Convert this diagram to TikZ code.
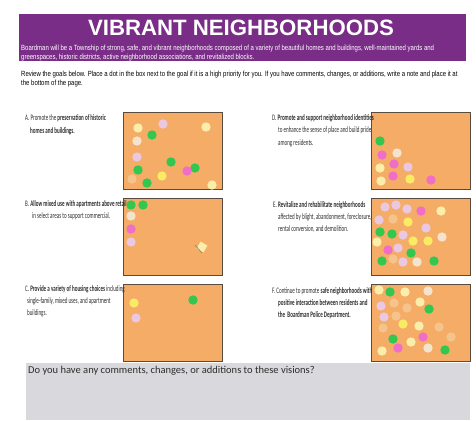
\documentclass[tikz,border=0pt]{standalone}
\usepackage{fontspec}
\setmainfont{Carlito}
\newfontfamily\headfont{Liberation Sans}
\newfontfamily\bannerfont[FakeStretch=0.8]{Liberation Sans}
\newfontfamily\goalfont[FakeStretch=0.6]{Carlito}
\usetikzlibrary{positioning}

\definecolor{banner}{RGB}{122,45,135}
\definecolor{boxfill}{RGB}{244,172,102}
\definecolor{boxline}{RGB}{90,75,65}
\definecolor{notefill}{RGB}{217,217,221}
\definecolor{goaltext}{RGB}{45,45,45}
\definecolor{dgreen}{RGB}{50,200,80}
\definecolor{dpink}{RGB}{240,110,200}
\definecolor{dyellow}{RGB}{250,235,100}
\definecolor{dpale}{RGB}{250,238,170}
\definecolor{dcream}{RGB}{245,228,205}
\definecolor{dlav}{RGB}{235,200,225}
\definecolor{dpeach}{RGB}{245,195,140}

\begin{document}
\begin{tikzpicture}[x=1pt,y=-1pt,
	goalbox/.style={draw=boxline,fill=boxfill,line width=0.8pt,minimum width=99pt,minimum height=77pt,inner sep=0pt},
	goal/.style={anchor=base west,inner sep=0pt,text=goaltext,font=\goalfont\fontsize{8.4}{10}\selectfont},
	intro/.style={anchor=base west,inner sep=0pt,font=\bannerfont\fontsize{7.5}{8}\selectfont}]
	\useasboundingbox (0,0) rectangle (476,420);

	% header
	\node[fill=banner,anchor=north west,minimum width=447pt,minimum height=47pt,inner sep=0pt] (banner) at (19,14) {};
	\node[anchor=base,inner sep=0pt,text=white,font=\headfont\bfseries\fontsize{22.2}{24}\selectfont] (title) at (241,36) {VIBRANT NEIGHBORHOODS};
	\node[intro,text=white] (vision1) at (21,50.5) {Boardman will be a Township of strong, safe, and vibrant neighborhoods composed of a variety of beautiful homes and buildings, well-maintained yards and};
	\node[intro,text=white] (vision2) at (21,59.5) {greenspaces, historic districts, active neighborhood associations, and revitalized blocks.};
	\node[intro] (review1) at (21,76.5) {Review the goals below. Place a dot in the box next to the goal if it is a high priority for you. If you have comments, changes, or additions, write a note and place it at};
	\node[intro] (review2) at (21,85) {the bottom of the page.};

	% boxes
	\node[goalbox] (boxA) at (173,151) {};
	\node[goalbox] (boxB) [below=8pt of boxA] {};
	\node[goalbox] (boxC) [below=8pt of boxB] {};
	\node[goalbox] (boxD) [right=148pt of boxA] {};
	\node[goalbox] (boxE) [below=8pt of boxD] {};
	\node[goalbox] (boxF) [below=8pt of boxE] {};

	% goals
	\node[goal] (goalA1) at (25,120) {A. Promote the \textbf{preservation of historic}};
	\node[goal] (goalA2) at (30,133) {\textbf{homes and buildings.}};
	\node[goal] (goalB1) at (25,206) {B. \textbf{Allow mixed use with apartments above retail}};
	\node[goal] (goalB2) at (32,218) {in select areas to support commercial.};
	\node[goal] (goalC1) at (25,291) {C. \textbf{Provide a variety of housing choices} including};
	\node[goal] (goalC2) at (27,303) {single-family, mixed uses, and apartment};
	\node[goal] (goalC3) at (27,315) {buildings.};
	\node[goal] (goalD1) at (272,120) {D. \textbf{Promote and support neighborhood identities}};
	\node[goal] (goalD2) at (278,132.5) {to enhance the sense of place and build pride};
	\node[goal] (goalD3) at (278,145) {among residents.};
	\node[goal] (goalE1) at (273,207) {E. \textbf{Revitalize and rehabilitate neighborhoods}};
	\node[goal] (goalE2) at (278,219.5) {affected by blight, abandonment, foreclosure,};
	\node[goal] (goalE3) at (278,231.5) {rental conversion, and demolition.};
	\node[goal] (goalF1) at (272,293) {F. Continue to promote \textbf{safe neighborhoods with}};
	\node[goal] (goalF2) at (278,305) {\textbf{positive interaction between residents and}};
	\node[goal] (goalF3) at (278,317) {\textbf{the\ \ Boardman Police Department.}};

	% dots
	\foreach \x/\y/\c in {138/128/dpale,163/124/dlav,152/135/dgreen,206/127/dpale,137/141/dcream,
		137/157/dlav,171/162/dgreen,138/170/dgreen,195/168/dgreen,187/171/dpink,162/176/dyellow,
		132/179/dpeach,147/183/dgreen,212/185/dpale}
		\fill[\c] (\x,\y) circle (4.7pt);
	\foreach \x/\y/\c in {131/205/dgreen,143/205/dgreen,131/216/dcream,131/229/dpink,131/242/dlav}
		\fill[\c] (\x,\y) circle (4.7pt);
	\foreach \x/\y/\c in {134/303/dyellow,136/318/dlav,193/300/dgreen}
		\fill[\c] (\x,\y) circle (4.7pt);
	\foreach \x/\y/\c in {380/141/dgreen,382/155/dpink,397/153/dcream,380/168/dpale,394/164/dpink,
		408/167/dlav,381/181/dpale,393/176/dpink,410/179/dyellow,431/180/dpink}
		\fill[\c] (\x,\y) circle (4.7pt);
	\foreach \x/\y/\c in {385/207/dlav,396/205/dlav,407/209/dlav,421/211/dpink,441/211/dpale,
		379/220/dlav,393/219/dpeach,408/222/dyellow,426/228/dlav,380/232/dgreen,392/234/dgreen,
		403/235/dlav,377/242/dpale,413/241/dyellow,428/241/dyellow,442/237/dcream,388/250/dpink,
		398/248/dlav,411/253/dgreen,382/261/dgreen,393/259/dpeach,403/262/dlav,417/262/dcream,434/261/dgreen}
		\fill[\c] (\x,\y) circle (4.7pt);
	\foreach \x/\y/\c in {379/290/dpale,390/292/dgreen,405/292/dpale,428/291/dcream,381/306/dlav,
		394/303/dpeach,407/308/dpeach,420/302/dpale,429/309/dgreen,384/317/dlav,396/316/dpeach,
		403/324/dyellow,419/326/dpale,439/327/dpeach,383/328/dpeach,393/339/dgreen,423/337/dpink,
		411/342/dpale,451/337/dpeach,382/351/dpale,398/348/dpink,428/348/dcream,445/350/dgreen}
		\fill[\c] (\x,\y) circle (4.7pt);

	% sticky bit in box B
	\fill[dpale,rotate around={-30:(202,247)}] (198,243) rectangle (206,251);
	\draw[gray,line width=0.6pt] (195,245) -- (202,253);

	% comments
	\node[fill=notefill,anchor=north west,minimum width=444pt,minimum height=57pt,inner sep=0pt] (notes) at (26,363) {};
	\node[anchor=west,inner sep=0pt,text=goaltext,font=\fontsize{10.5}{12}\selectfont] (ask) at (28,371) {Do you have any comments, changes, or additions to these visions?};
\end{tikzpicture}
\end{document}
